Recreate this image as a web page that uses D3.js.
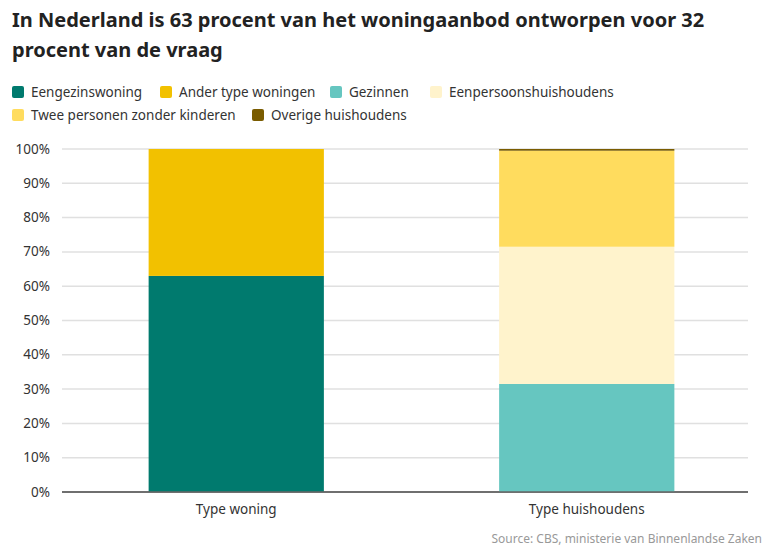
<!DOCTYPE html><html><head><meta charset="utf-8"><script src="https://cdn.jsdelivr.net/npm/d3@7"></script>
<style>body{margin:0;background:#fff}svg{font-family:"Noto Sans",sans-serif}</style></head><body><svg id="c" width="784" height="555"></svg>
<script>
const categories=["Type woning","Type huishoudens"];
const seriesNames=["Eengezinswoning","Ander type woningen","Gezinnen","Eenpersoonshuishoudens","Twee personen zonder kinderen","Overige huishoudens"];
const seriesColors=["#007a6e","#f2c100","#66c6c0","#fff3cc","#ffdc5e","#7a5c00"];
const typeWoning=[63,37,0,0,0,0];
const typeHuishoudens=[0,0,31.5,40,28,0.5];
const yTicks=[0,10,20,30,40,50,60,70,80,90,100];
const svg=d3.select("#c");
svg.append("text").attr("x",12).attr("y",27).attr("font-size",20).attr("font-weight",700).attr("fill","#222").text("In Nederland is 63 procent van het woningaanbod ontworpen voor 32");
svg.append("text").attr("x",12).attr("y",57).attr("font-size",20).attr("font-weight",700).attr("fill","#222").text("procent van de vraag");
const leg=[[0,1,2,3],[4,5]];
const lx=[[12,160,330,430],[12,252]];
leg.forEach((row,r)=>row.forEach((s,i)=>{
 const g=svg.append("g").attr("transform",`translate(${lx[r][i]},${92+r*23})`);
 g.append("rect").attr("x",0).attr("y",-6).attr("width",12).attr("height",12).attr("rx",2).attr("fill",seriesColors[s]);
 g.append("text").attr("x",19).attr("y",5).attr("font-size",13.5).attr("fill","#333").text(seriesNames[s]);
}));
// adjust legend positions by measured widths
leg.forEach((row,r)=>{let x=12;svg.selectAll("g").filter((d,j,n)=>false);});
const x=d3.scaleBand().domain(categories).range([61,762]).paddingInner(0.5).paddingOuter(0.25);
const y=d3.scaleLinear().domain([0,100]).range([492,149]);
const grid=svg.append("g");
yTicks.forEach(t=>{
 grid.append("line").attr("x1",62).attr("x2",748).attr("y1",y(t)).attr("y2",y(t)).attr("stroke",t===0?"#666":"#e0e0e0").attr("stroke-width",t===0?1.5:1.5);
 grid.append("text").attr("x",50).attr("y",y(t)+4.5).attr("text-anchor","end").attr("font-size",13.5).attr("fill","#333").text(t+"%");
});
const rows=[typeWoning,typeHuishoudens];
rows.forEach((vals,ci)=>{let acc=0;vals.forEach((v,s)=>{if(!v)return;
 svg.append("rect").attr("x",x(categories[ci])).attr("width",x.bandwidth()).attr("y",y(acc+v)).attr("height",y(acc)-y(acc+v)).attr("fill",seriesColors[s]);acc+=v;});});
svg.append("line").attr("x1",62).attr("x2",748).attr("y1",y(0)).attr("y2",y(0)).attr("stroke","#666").attr("stroke-width",1.5);
categories.forEach(c=>svg.append("text").attr("x",x(c)+x.bandwidth()/2).attr("y",514).attr("text-anchor","middle").attr("font-size",13.5).attr("fill","#333").text(c));
svg.append("text").attr("x",762).attr("y",543).attr("text-anchor","end").attr("font-size",12).attr("fill","#999").text("Source:  CBS, ministerie van Binnenlandse Zaken");
// legend spacing from measured text
leg.forEach((row,r)=>{});
</script></body></html>
